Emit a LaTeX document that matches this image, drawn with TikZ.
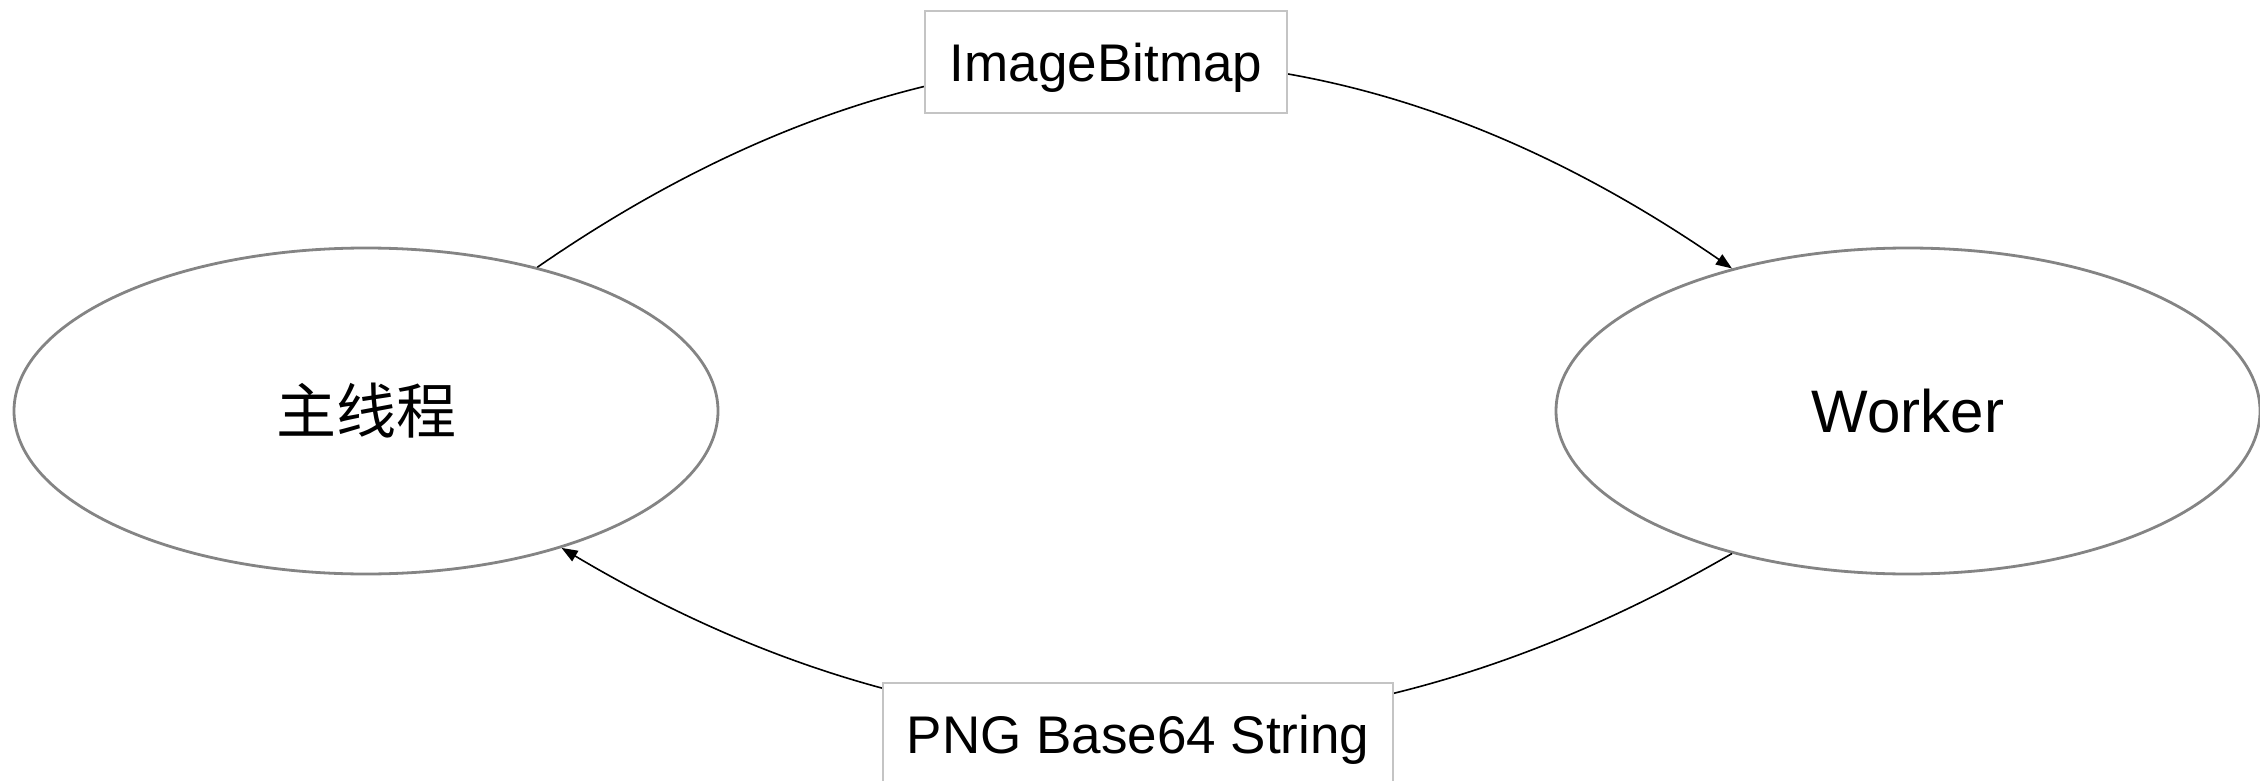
\documentclass[tikz,border=0pt]{standalone}
\usepackage{fontspec}
\setmainfont{Liberation Sans}
\newfontfamily\cjk{Noto Sans CJK SC}
\usetikzlibrary{shapes.geometric,arrows.meta}
\definecolor{ellgray}{HTML}{848484}
\definecolor{boxgray}{HTML}{C4C4C4}
\tikzset{
  proc/.style={ellipse, draw=ellgray, line width=2.8pt, fill=white, minimum width=704pt, minimum height=326pt, inner sep=0pt, font=\fontsize{60pt}{72pt}\selectfont},
  lbl/.style={rectangle, draw=boxgray, line width=1.6pt, fill=white, inner sep=0pt, text depth=0pt, minimum height=102pt, font=\fontsize{53pt}{64pt}\selectfont},
  flow/.style={draw=black, line width=1.6pt, -{Triangle[length=16pt,width=12pt]}}
}
\begin{document}
\begin{tikzpicture}[x=1pt,y=-1pt]
\useasboundingbox (0,0) rectangle (2260,781);
\node[proc] (main) at (366,411) {\cjk 主线程};
\node[proc] (worker) at (1908,411) {Worker};
\draw[flow] (main.40) .. controls (934,-7) and (1332,-7) .. (worker.141);
\draw[flow] (worker.-141.5) .. controls (1342,780) and (952,780) .. (main.-35);
\node[lbl, minimum width=362pt] (img) at (1106,62) {ImageBitmap};
\node[lbl, minimum width=510pt] (png) at (1138,734) {PNG Base64 String};
\end{tikzpicture}
\end{document}
